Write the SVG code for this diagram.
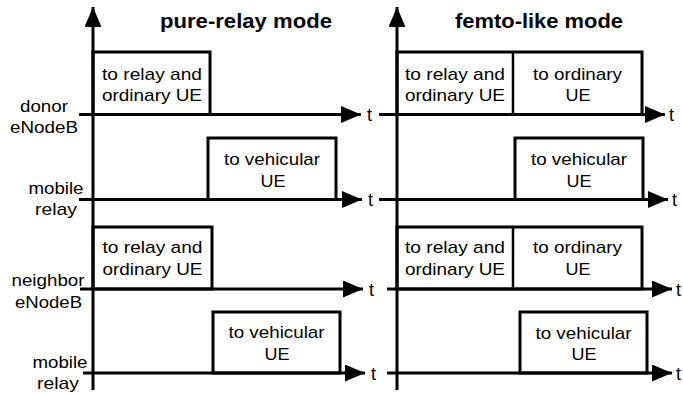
<svg xmlns="http://www.w3.org/2000/svg" width="683" height="394" viewBox="0 0 683 394">
<style>
text{font-family:"Liberation Sans",Arial,Helvetica,sans-serif;font-size:17px;fill:#000}
.m{text-anchor:middle}
.t{font-size:18px}
.ttl{font-weight:bold;font-size:19.5px;text-anchor:middle}
.ax{stroke:#000;stroke-width:3;fill:none}
.bx{stroke:#000;stroke-width:3;fill:#fff}
.dv{stroke:#000;stroke-width:2.5;fill:none}
</style>
<defs>
<marker id="ah" markerUnits="userSpaceOnUse" markerWidth="22" markerHeight="18" refX="20" refY="8.5" orient="auto" viewBox="0 0 22 18">
<path d="M0,0 L20,8.5 L0,17 Z" fill="#000"/>
</marker>
</defs>
<rect width="683" height="394" fill="#fff"/>

<g id="titles">
<text class="ttl" x="246" y="28" textLength="172" lengthAdjust="spacingAndGlyphs">pure-relay mode</text>
<text class="ttl" x="539" y="28" textLength="168" lengthAdjust="spacingAndGlyphs">femto-like mode</text>
</g>

<g id="boxes-left">
<g id="L-donor">
<rect class="bx" x="93" y="52" width="117" height="62.5"/>
<text class="m" x="152" y="80" textLength="100" lengthAdjust="spacingAndGlyphs">to relay and</text>
<text class="m" x="152" y="101" textLength="100" lengthAdjust="spacingAndGlyphs">ordinary UE</text>
</g>
<g id="L-mobile">
<rect class="bx" x="208" y="138" width="128" height="61.5"/>
<text class="m" x="272" y="165" textLength="96" lengthAdjust="spacingAndGlyphs">to vehicular</text>
<text class="m" x="273" y="187" textLength="25" lengthAdjust="spacingAndGlyphs">UE</text>
</g>
<g id="L-neighbor">
<rect class="bx" x="93" y="227" width="119" height="62"/>
<text class="m" x="152.5" y="253" textLength="100" lengthAdjust="spacingAndGlyphs">to relay and</text>
<text class="m" x="152.5" y="275" textLength="100" lengthAdjust="spacingAndGlyphs">ordinary UE</text>
</g>
<g id="L-mobile2">
<rect class="bx" x="213" y="312" width="127" height="61"/>
<text class="m" x="276.5" y="338" textLength="96" lengthAdjust="spacingAndGlyphs">to vehicular</text>
<text class="m" x="277" y="360" textLength="25" lengthAdjust="spacingAndGlyphs">UE</text>
</g>
</g>

<g id="boxes-right">
<g id="R-donor">
<rect class="bx" x="397" y="52" width="245" height="62.5"/>
<line class="dv" x1="513" y1="52" x2="513" y2="114.5"/>
<text class="m" x="455" y="80" textLength="100" lengthAdjust="spacingAndGlyphs">to relay and</text>
<text class="m" x="455" y="101" textLength="100" lengthAdjust="spacingAndGlyphs">ordinary UE</text>
<text class="m" x="577.5" y="80" textLength="89" lengthAdjust="spacingAndGlyphs">to ordinary</text>
<text class="m" x="578" y="101" textLength="25" lengthAdjust="spacingAndGlyphs">UE</text>
</g>
<g id="R-mobile">
<rect class="bx" x="515" y="138" width="128" height="61.5"/>
<text class="m" x="579" y="165" textLength="96" lengthAdjust="spacingAndGlyphs">to vehicular</text>
<text class="m" x="579" y="187" textLength="25" lengthAdjust="spacingAndGlyphs">UE</text>
</g>
<g id="R-neighbor">
<rect class="bx" x="397" y="227" width="245" height="62"/>
<line class="dv" x1="513" y1="227" x2="513" y2="289"/>
<text class="m" x="455" y="253" textLength="100" lengthAdjust="spacingAndGlyphs">to relay and</text>
<text class="m" x="455" y="275" textLength="100" lengthAdjust="spacingAndGlyphs">ordinary UE</text>
<text class="m" x="577.5" y="253" textLength="89" lengthAdjust="spacingAndGlyphs">to ordinary</text>
<text class="m" x="578" y="275" textLength="25" lengthAdjust="spacingAndGlyphs">UE</text>
</g>
<g id="R-mobile2">
<rect class="bx" x="520" y="312" width="127" height="61"/>
<text class="m" x="583.5" y="339" textLength="96" lengthAdjust="spacingAndGlyphs">to vehicular</text>
<text class="m" x="584" y="360" textLength="25" lengthAdjust="spacingAndGlyphs">UE</text>
</g>
</g>

<g id="connectors">
<line class="ax" x1="93" y1="390" x2="93" y2="7" marker-end="url(#ah)"/>
<line class="ax" x1="397" y1="390" x2="397" y2="7" marker-end="url(#ah)"/>
<line class="ax" x1="79" y1="114.5" x2="361" y2="114.5" marker-end="url(#ah)"/>
<line class="ax" x1="79" y1="199.5" x2="362" y2="199.5" marker-end="url(#ah)"/>
<line class="ax" x1="80" y1="289" x2="363" y2="289" marker-end="url(#ah)"/>
<line class="ax" x1="83" y1="373" x2="365" y2="373" marker-end="url(#ah)"/>
<line class="ax" x1="379" y1="114.5" x2="665" y2="114.5" marker-end="url(#ah)"/>
<line class="ax" x1="379" y1="199.5" x2="668" y2="199.5" marker-end="url(#ah)"/>
<line class="ax" x1="387" y1="289" x2="672" y2="289" marker-end="url(#ah)"/>
<line class="ax" x1="387" y1="373" x2="672" y2="373" marker-end="url(#ah)"/>
</g>

<g id="t-labels">
<text class="t" x="367" y="121">t</text>
<text class="t" x="368" y="206">t</text>
<text class="t" x="369" y="296">t</text>
<text class="t" x="371" y="380">t</text>
<text class="t" x="669" y="121">t</text>
<text class="t" x="672" y="206">t</text>
<text class="t" x="676" y="296">t</text>
<text class="t" x="676" y="380">t</text>
</g>

<g id="row-labels">
<g id="lbl-donor">
<text class="m" x="44" y="111.5" textLength="48" lengthAdjust="spacingAndGlyphs">donor</text>
<text class="m" x="44" y="133" textLength="68" lengthAdjust="spacingAndGlyphs">eNodeB</text>
</g>
<g id="lbl-mobile">
<text class="m" x="56" y="194" textLength="55" lengthAdjust="spacingAndGlyphs">mobile</text>
<text class="m" x="56" y="215" textLength="42" lengthAdjust="spacingAndGlyphs">relay</text>
</g>
<g id="lbl-neighbor">
<text class="m" x="48" y="286" textLength="73" lengthAdjust="spacingAndGlyphs">neighbor</text>
<text class="m" x="48.5" y="308" textLength="67" lengthAdjust="spacingAndGlyphs">eNodeB</text>
</g>
<g id="lbl-mobile2">
<text class="m" x="60" y="368" textLength="55" lengthAdjust="spacingAndGlyphs">mobile</text>
<text class="m" x="58" y="388.5" textLength="42" lengthAdjust="spacingAndGlyphs">relay</text>
</g>
</g>
</svg>
